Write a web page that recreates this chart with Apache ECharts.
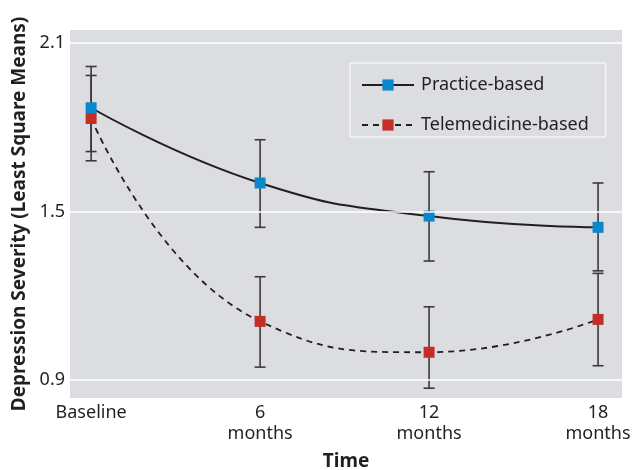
<!DOCTYPE html>
<html>
<head>
<meta charset="utf-8">
<script src="https://cdn.jsdelivr.net/npm/echarts@6/dist/echarts.min.js"></script>
<style>html,body{margin:0;padding:0;background:#fff}#c{width:633px;height:470px}</style>
</head>
<body>
<div id="c"></div>
<script>
const categories = ['Baseline', '6\nmonths', '12\nmonths', '18\nmonths'];
const months = [0, 6, 12, 18];
const practice = [1.870, 1.602, 1.484, 1.444];
const practiceLow = [1.714, 1.444, 1.324, 1.289];
const practiceHigh = [2.017, 1.756, 1.642, 1.602];
const tele = [1.832, 1.109, 0.999, 1.116];
const teleLow = [1.681, 0.946, 0.871, 0.951];
const teleHigh = [1.985, 1.268, 1.161, 1.280];
const yTicks = [0.9, 1.5, 2.1];

const FONT = 'Noto Sans';
const chart = echarts.init(document.getElementById('c'), null, {renderer: 'canvas'});

function errData(low, high) {
  return months.map((m, i) => [m, low[i], high[i]]);
}
function renderErr(params, api) {
  const x = api.value(0);
  const lo = api.coord([x, api.value(1)]);
  const hi = api.coord([x, api.value(2)]);
  const w = 5.5;
  const style = {stroke: '#3a3a3a', lineWidth: 1.6};
  return {
    type: 'group',
    children: [
      {type: 'line', shape: {x1: lo[0], y1: lo[1], x2: hi[0], y2: hi[1]}, style},
      {type: 'line', shape: {x1: lo[0] - w, y1: lo[1], x2: lo[0] + w, y2: lo[1]}, style},
      {type: 'line', shape: {x1: hi[0] - w, y1: hi[1], x2: hi[0] + w, y2: hi[1]}, style}
    ]
  };
}

const option = {
  animation: false,
  backgroundColor: '#fff',
  textStyle: {fontFamily: FONT},
  grid: {left: 70, top: 30, right: 11, bottom: 72, show: true, backgroundColor: '#dcdde0', borderWidth: 0,
         containLabel: false, outerBoundsMode: 'none'},
  legend: {
    left: 350, top: 63, orient: 'vertical',
    itemWidth: 52, itemHeight: 14, itemGap: 22,
    padding: [13, 17, 3, 11],
    borderColor: '#ffffff', borderWidth: 1,
    textStyle: {fontSize: 18, color: '#231f20', fontFamily: FONT, padding: [0, 0, 0, 2]},
    data: ['Practice-based', 'Telemedicine-based']
  },
  xAxis: {
    type: 'value', min: -0.75, max: 18.85,
    name: 'Time', nameLocation: 'middle', nameGap: 54,
    nameTextStyle: {fontSize: 19, fontWeight: 'bold', color: '#231f20', fontFamily: FONT},
    axisLine: {show: false}, axisTick: {show: false}, splitLine: {show: false},
    axisLabel: {
      customValues: months, margin: 4, fontSize: 18, lineHeight: 21, color: '#231f20',
      formatter: v => categories[months.indexOf(v)] || ''
    }
  },
  yAxis: {
    type: 'value', min: 0.836, max: 2.147,
    name: 'Depression Severity (Least Square Means)', nameLocation: 'middle', nameGap: 38,
    nameTextStyle: {fontSize: 19, fontWeight: 'bold', color: '#231f20', fontFamily: FONT},
    axisLine: {show: false}, axisTick: {show: false}, splitLine: {show: false},
    axisLabel: {customValues: yTicks, margin: 5, fontSize: 18, color: '#231f20', formatter: v => v.toFixed(1)}
  },
  series: [
    {
      type: 'line', name: '_grid', silent: true, data: [], symbol: 'none',
      markLine: {
        silent: true, symbol: 'none', label: {show: false},
        lineStyle: {color: '#ffffff', width: 1.6, type: 'solid'},
        data: yTicks.map(v => ({yAxis: v}))
      }, z: 1
    },
    {type: 'custom', name: 'errP', renderItem: renderErr, data: errData(practiceLow, practiceHigh), encode: {x: 0, y: [1, 2]}, z: 2, silent: true},
    {type: 'custom', name: 'errT', renderItem: renderErr, data: errData(teleLow, teleHigh), encode: {x: 0, y: [1, 2]}, z: 2, silent: true},
    {
      type: 'line', name: 'Telemedicine-based', data: months.map((m, i) => [m, tele[i]]),
      smooth: 0.5, symbol: 'rect', symbolSize: 11, z: 3,
      lineStyle: {color: '#231f20', width: 1.8, type: [6, 5]},
      itemStyle: {color: '#c52d26'}
    },
    {
      type: 'line', name: 'Practice-based', data: months.map((m, i) => [m, practice[i]]),
      smooth: 0.5, symbol: 'rect', symbolSize: 11, z: 4,
      lineStyle: {color: '#231f20', width: 2},
      itemStyle: {color: '#0a88cc'}
    }
  ]
};
chart.setOption(option);
</script>
</body>
</html>
